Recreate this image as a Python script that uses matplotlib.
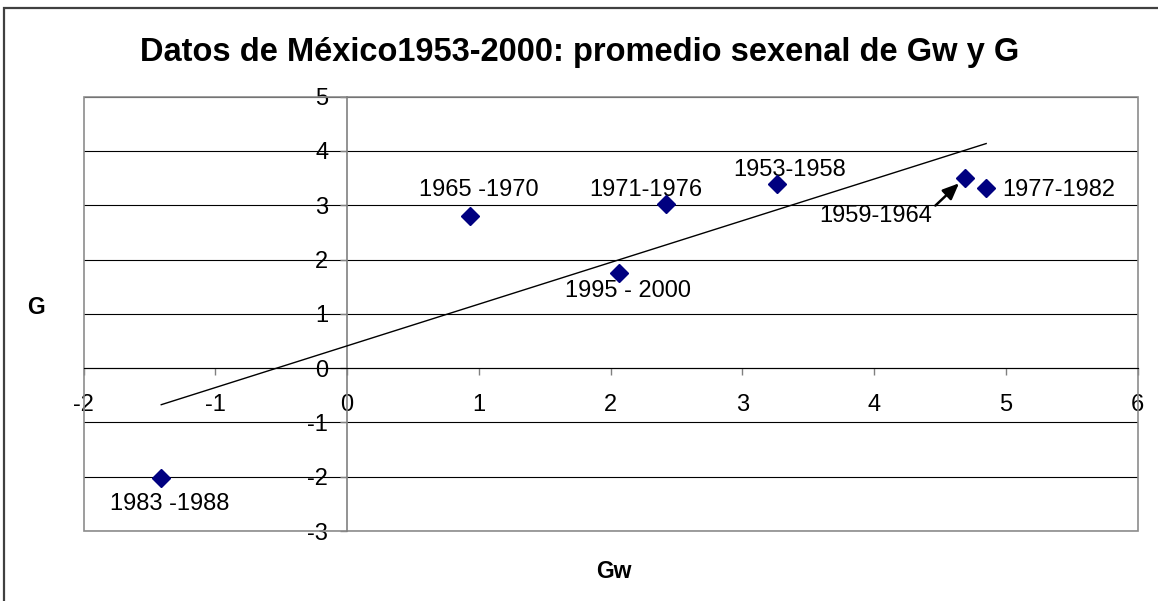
import numpy as np
import matplotlib
matplotlib.use("Agg")
import matplotlib.pyplot as plt
from matplotlib.patches import Rectangle

plt.rcParams['font.family'] = ['Liberation Sans', 'DejaVu Sans']

# Six-year averages of Gw (x) and G (y), Mexico 1953-2000
periods = ["1953-1958", "1959-1964", "1965 -1970", "1971-1976",
           "1977-1982", "1983 -1988", "1995 - 2000"]
gw = [3.26, 4.69, 0.93, 2.42, 4.85, -1.41, 2.06]
g = [3.40, 3.51, 2.80, 3.02, 3.31, -2.02, 1.76]

x_ticks = [-2, -1, 0, 1, 2, 3, 4, 5, 6]
y_ticks = [-3, -2, -1, 0, 1, 2, 3, 4, 5]

# label offsets from each point, in points
label_offsets = {
    "1953-1958": (9, 9.5),
    "1959-1964": (-64, -27.5),
    "1965 -1970": (6.5, 18.7),
    "1971-1976": (-14.4, 10.1),
    "1977-1982": (52.6, -1.4),
    "1983 -1988": (5.8, -18.7),
    "1995 - 2000": (6.8, -13),
}

W, H = 1158, 601
fig = plt.figure(figsize=(W / 100, H / 100), dpi=100)
fig.patch.set_facecolor("white")

# outer chart frame (extends past the right and bottom edges)
fig.patches.append(Rectangle((4 / W, -0.05), 1.1, 1 - 8 / H + 0.05,
                             transform=fig.transFigure, fill=False,
                             edgecolor="#404040", lw=1.6))

ax = fig.add_axes([83.5 / W, 1 - 531 / H, (1137.7 - 83.5) / W, (531 - 96.7) / H])
ax.set_xlim(x_ticks[0], x_ticks[-1])
ax.set_ylim(y_ticks[0], y_ticks[-1])

# horizontal gridlines
for yv in y_ticks:
    ax.axhline(yv, color="black", lw=0.8, zorder=1)

# plot-area border
ax.add_patch(Rectangle((0, 0), 1, 1, transform=ax.transAxes, fill=False,
                       edgecolor="#8c8c8c", lw=1.2, zorder=2, clip_on=False))

# axes crossing at the origin
ax.spines['left'].set_position(('data', 0))
ax.spines['bottom'].set_position(('data', 0))
ax.spines['top'].set_visible(False)
ax.spines['right'].set_visible(False)
ax.spines['left'].set_color("#808080")
ax.spines['bottom'].set_color("black")
ax.spines['left'].set_linewidth(1.2)
ax.spines['bottom'].set_linewidth(0.8)

ax.set_xticks(x_ticks)
ax.set_yticks(y_ticks)
ax.set_xticklabels([str(v) for v in x_ticks])
ax.set_yticklabels([str(v) for v in y_ticks])
ax.tick_params(axis='x', direction='out', length=5, width=1, color="#808080",
               pad=13.5, labelsize=17)
ax.tick_params(axis='y', direction='out', length=5, width=1, color="#808080",
               pad=8.5, labelsize=17)

# linear trend line over the data range
slope, intercept = np.polyfit(gw, g, 1)
xs = np.array([min(gw), max(gw)])
ax.plot(xs, slope * xs + intercept, color="black", lw=1.0, zorder=3)

ax.plot(gw, g, linestyle="none", marker="D", ms=9, color="#000080",
        markeredgecolor="#000080", zorder=4, clip_on=False)

for name, xv, yv in zip(periods, gw, g):
    dx, dy = label_offsets[name]
    if name == "1959-1964":
        ax.annotate(name, xy=(xv, yv), xytext=(dx, dy), textcoords="offset points",
                    ha="center", va="center", fontsize=17,
                    arrowprops=dict(arrowstyle="-|>,head_length=0.7,head_width=0.3",
                                    color="black", lw=1.8, shrinkA=0, shrinkB=6,
                                    relpos=(0.97, 0.7), mutation_scale=14))
    else:
        ax.annotate(name, xy=(xv, yv), xytext=(dx, dy), textcoords="offset points",
                    ha="center", va="center", fontsize=17)

fig.text(580 / W, 1 - 52 / H, "Datos de México1953-2000: promedio sexenal de Gw y G",
         ha="center", va="center", fontsize=23.5, fontweight="bold")
fig.text(36 / W, 1 - 307 / H, "G", ha="center", va="center", fontsize=16.5,
         fontweight="bold")
fig.text(614 / W, 1 - 571 / H, "Gw", ha="center", va="center", fontsize=16.5,
         fontweight="bold")

fig.savefig("out.png", dpi=100)
